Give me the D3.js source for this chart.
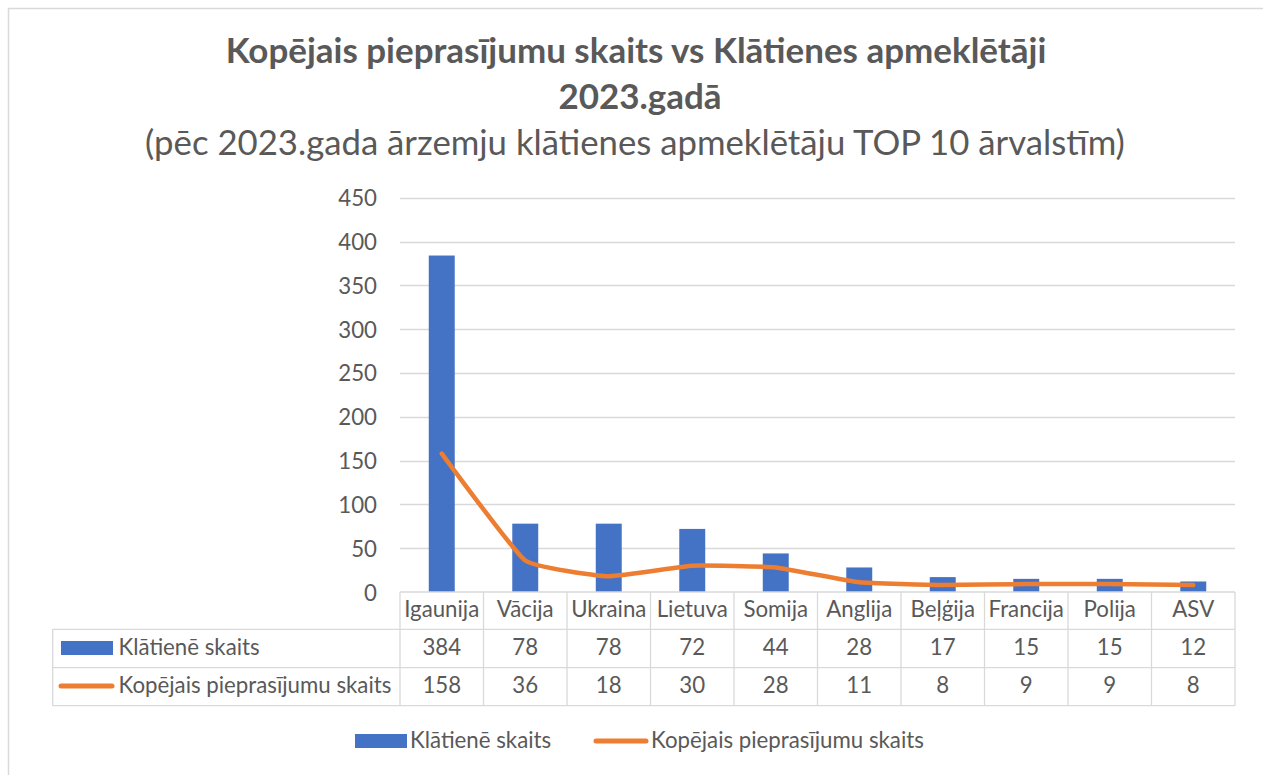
<!DOCTYPE html>
<html>
<head>
<meta charset="utf-8">
<script src="https://cdn.jsdelivr.net/npm/d3@7"></script>
<style>
  html, body { margin: 0; padding: 0; background: #ffffff; }
  svg { display: block; }
</style>
</head>
<body>
<script>
// ---- DATA ----
const categories = ["Igaunija", "Vācija", "Ukraina", "Lietuva", "Somija", "Anglija", "Beļģija", "Francija", "Polija", "ASV"];
const klatieneSkaits = [384, 78, 78, 72, 44, 28, 17, 15, 15, 12];
const pieprasijumuSkaits = [158, 36, 18, 30, 28, 11, 8, 9, 9, 8];
const yTickValues = [0, 50, 100, 150, 200, 250, 300, 350, 400, 450];
const seriesNames = ["Klātienē skaits", "Kopējais pieprasījumu skaits"];
const titleLine1 = "Kopējais pieprasījumu skaits vs Klātienes apmeklētāji";
const titleLine2 = "2023.gadā";
const subtitle = "(pēc 2023.gada ārzemju klātienes apmeklētāju TOP 10 ārvalstīm)";

// ---- LAYOUT / STYLE ----
const W = 1263, H = 775;
const FONT = "Lato, 'Open Sans', 'Liberation Sans', sans-serif";
const TEXT = "#595959";
const GRID = "#d9d9d9";
const BLUE = "#4472C4";
const ORANGE = "#ED7D31";

const plot = { left: 400, right: 1235, top: 197.7, bottom: 592 };
const table = { left: 52.7, rows: [592, 629.3, 667.7, 705.7] };

const svg = d3.select("body").append("svg").attr("width", W).attr("height", H)
  .style("font-family", FONT);

// outer chart border
svg.append("rect").attr("x", 8.5).attr("y", 8.5).attr("width", W + 20).attr("height", H + 20)
  .attr("fill", "none").attr("stroke", GRID).attr("stroke-width", 1.5);

// helper: fit text width
function fit(sel, target) {
  const node = sel.node();
  const fs = parseFloat(sel.attr("font-size"));
  const w = node.getComputedTextLength();
  sel.attr("font-size", fs * target / w);
  return fs * target / w;
}

// calibrate base font size so that long label ~273px
const probe = svg.append("text").attr("font-size", 20).text(seriesNames[1]);
const baseFS = fit(probe, 273);
probe.remove();

// ---- TITLES ----
const t1 = svg.append("text").attr("x", 636).attr("y", 63).attr("text-anchor", "middle")
  .attr("font-weight", "bold").attr("fill", TEXT).attr("font-size", 28).text(titleLine1);
fit(t1, 821);
const t2 = svg.append("text").attr("x", 640).attr("y", 109).attr("text-anchor", "middle")
  .attr("font-weight", "bold").attr("fill", TEXT).attr("font-size", t1.attr("font-size")).text(titleLine2);
const t3 = svg.append("text").attr("x", 635).attr("y", 155).attr("text-anchor", "middle")
  .attr("fill", TEXT).attr("font-size", 30).text(subtitle);
fit(t3, 980);

// ---- SCALES ----
const x = d3.scaleBand().domain(categories).range([plot.left, plot.right])
  .paddingInner(0.689).paddingOuter(0.3445);
const xCol = d3.scaleBand().domain(categories).range([plot.left, plot.right]).padding(0);
const y = d3.scaleLinear().domain([0, 450]).range([plot.bottom, plot.top]);

// gridlines
svg.append("g").selectAll("line").data(yTickValues.filter(d => d > 0)).join("line")
  .attr("x1", plot.left).attr("x2", plot.right)
  .attr("y1", d => Math.round(y(d)) + 0.5).attr("y2", d => Math.round(y(d)) + 0.5)
  .attr("stroke", GRID).attr("stroke-width", 1.3);

// y axis labels via d3 axis
const yAxis = d3.axisLeft(y).tickValues(yTickValues).tickSize(0).tickPadding(0);
const gy = svg.append("g").attr("transform", `translate(${377},0)`).call(yAxis);
gy.select(".domain").remove();
gy.selectAll("text").attr("fill", TEXT).attr("font-size", baseFS).attr("font-family", FONT)
  .attr("dy", "0.36em");

// bars
svg.append("g").selectAll("rect").data(categories).join("rect")
  .attr("x", d => x(d)).attr("width", x.bandwidth())
  .attr("y", (d, i) => y(klatieneSkaits[i]))
  .attr("height", (d, i) => y(0) - y(klatieneSkaits[i]))
  .attr("fill", BLUE);

// line (lightly smoothed)
const line = d3.line()
  .x((d, i) => xCol(categories[i]) + xCol.bandwidth() / 2)
  .y(d => y(d))
  .curve(d3.curveCardinal.tension(0.65));
svg.append("path").datum(pieprasijumuSkaits).attr("d", line)
  .attr("fill", "none").attr("stroke", ORANGE).attr("stroke-width", 4.5)
  .attr("stroke-linecap", "round").attr("stroke-linejoin", "round");

// ---- DATA TABLE ----
const tg = svg.append("g").attr("stroke", GRID).attr("stroke-width", 1.3);
tg.append("line").attr("x1", plot.left).attr("x2", plot.right).attr("y1", table.rows[0]).attr("y2", table.rows[0]);
[1, 2, 3].forEach(r => {
  tg.append("line").attr("x1", table.left).attr("x2", plot.right)
    .attr("y1", table.rows[r]).attr("y2", table.rows[r]);
});
const colEdges = categories.map(c => xCol(c)).concat([plot.right]);
tg.selectAll("line.v").data(colEdges).join("line").attr("class", "v")
  .attr("x1", d => d).attr("x2", d => d).attr("y1", table.rows[0]).attr("y2", table.rows[3]);
tg.append("line").attr("x1", table.left).attr("x2", table.left)
  .attr("y1", table.rows[1]).attr("y2", table.rows[3]);

// header category labels
svg.append("g").selectAll("text").data(categories).join("text")
  .attr("x", d => xCol(d) + xCol.bandwidth() / 2).attr("y", 617)
  .attr("text-anchor", "middle").attr("fill", TEXT).attr("font-size", baseFS).text(d => d);

// values rows
svg.append("g").selectAll("text").data(klatieneSkaits).join("text")
  .attr("x", (d, i) => xCol(categories[i]) + xCol.bandwidth() / 2).attr("y", 655)
  .attr("text-anchor", "middle").attr("fill", TEXT).attr("font-size", baseFS).text(d => d);
svg.append("g").selectAll("text").data(pieprasijumuSkaits).join("text")
  .attr("x", (d, i) => xCol(categories[i]) + xCol.bandwidth() / 2).attr("y", 693)
  .attr("text-anchor", "middle").attr("fill", TEXT).attr("font-size", baseFS).text(d => d);

// row legend keys
svg.append("rect").attr("x", 61).attr("y", 641).attr("width", 52).attr("height", 14).attr("fill", BLUE);
svg.append("text").attr("x", 118.5).attr("y", 655).attr("fill", TEXT).attr("font-size", baseFS).text(seriesNames[0]);
svg.append("line").attr("x1", 61).attr("x2", 112).attr("y1", 686).attr("y2", 686)
  .attr("stroke", ORANGE).attr("stroke-width", 5).attr("stroke-linecap", "round");
svg.append("text").attr("x", 118.5).attr("y", 693).attr("fill", TEXT).attr("font-size", baseFS).text(seriesNames[1]);

// ---- BOTTOM LEGEND ----
svg.append("rect").attr("x", 355).attr("y", 734).attr("width", 52).attr("height", 14).attr("fill", BLUE);
svg.append("text").attr("x", 410).attr("y", 748).attr("fill", TEXT).attr("font-size", baseFS).text(seriesNames[0]);
svg.append("line").attr("x1", 596).attr("x2", 646).attr("y1", 741).attr("y2", 741)
  .attr("stroke", ORANGE).attr("stroke-width", 5).attr("stroke-linecap", "round");
svg.append("text").attr("x", 651).attr("y", 748).attr("fill", TEXT).attr("font-size", baseFS).text(seriesNames[1]);
</script>
</body>
</html>
